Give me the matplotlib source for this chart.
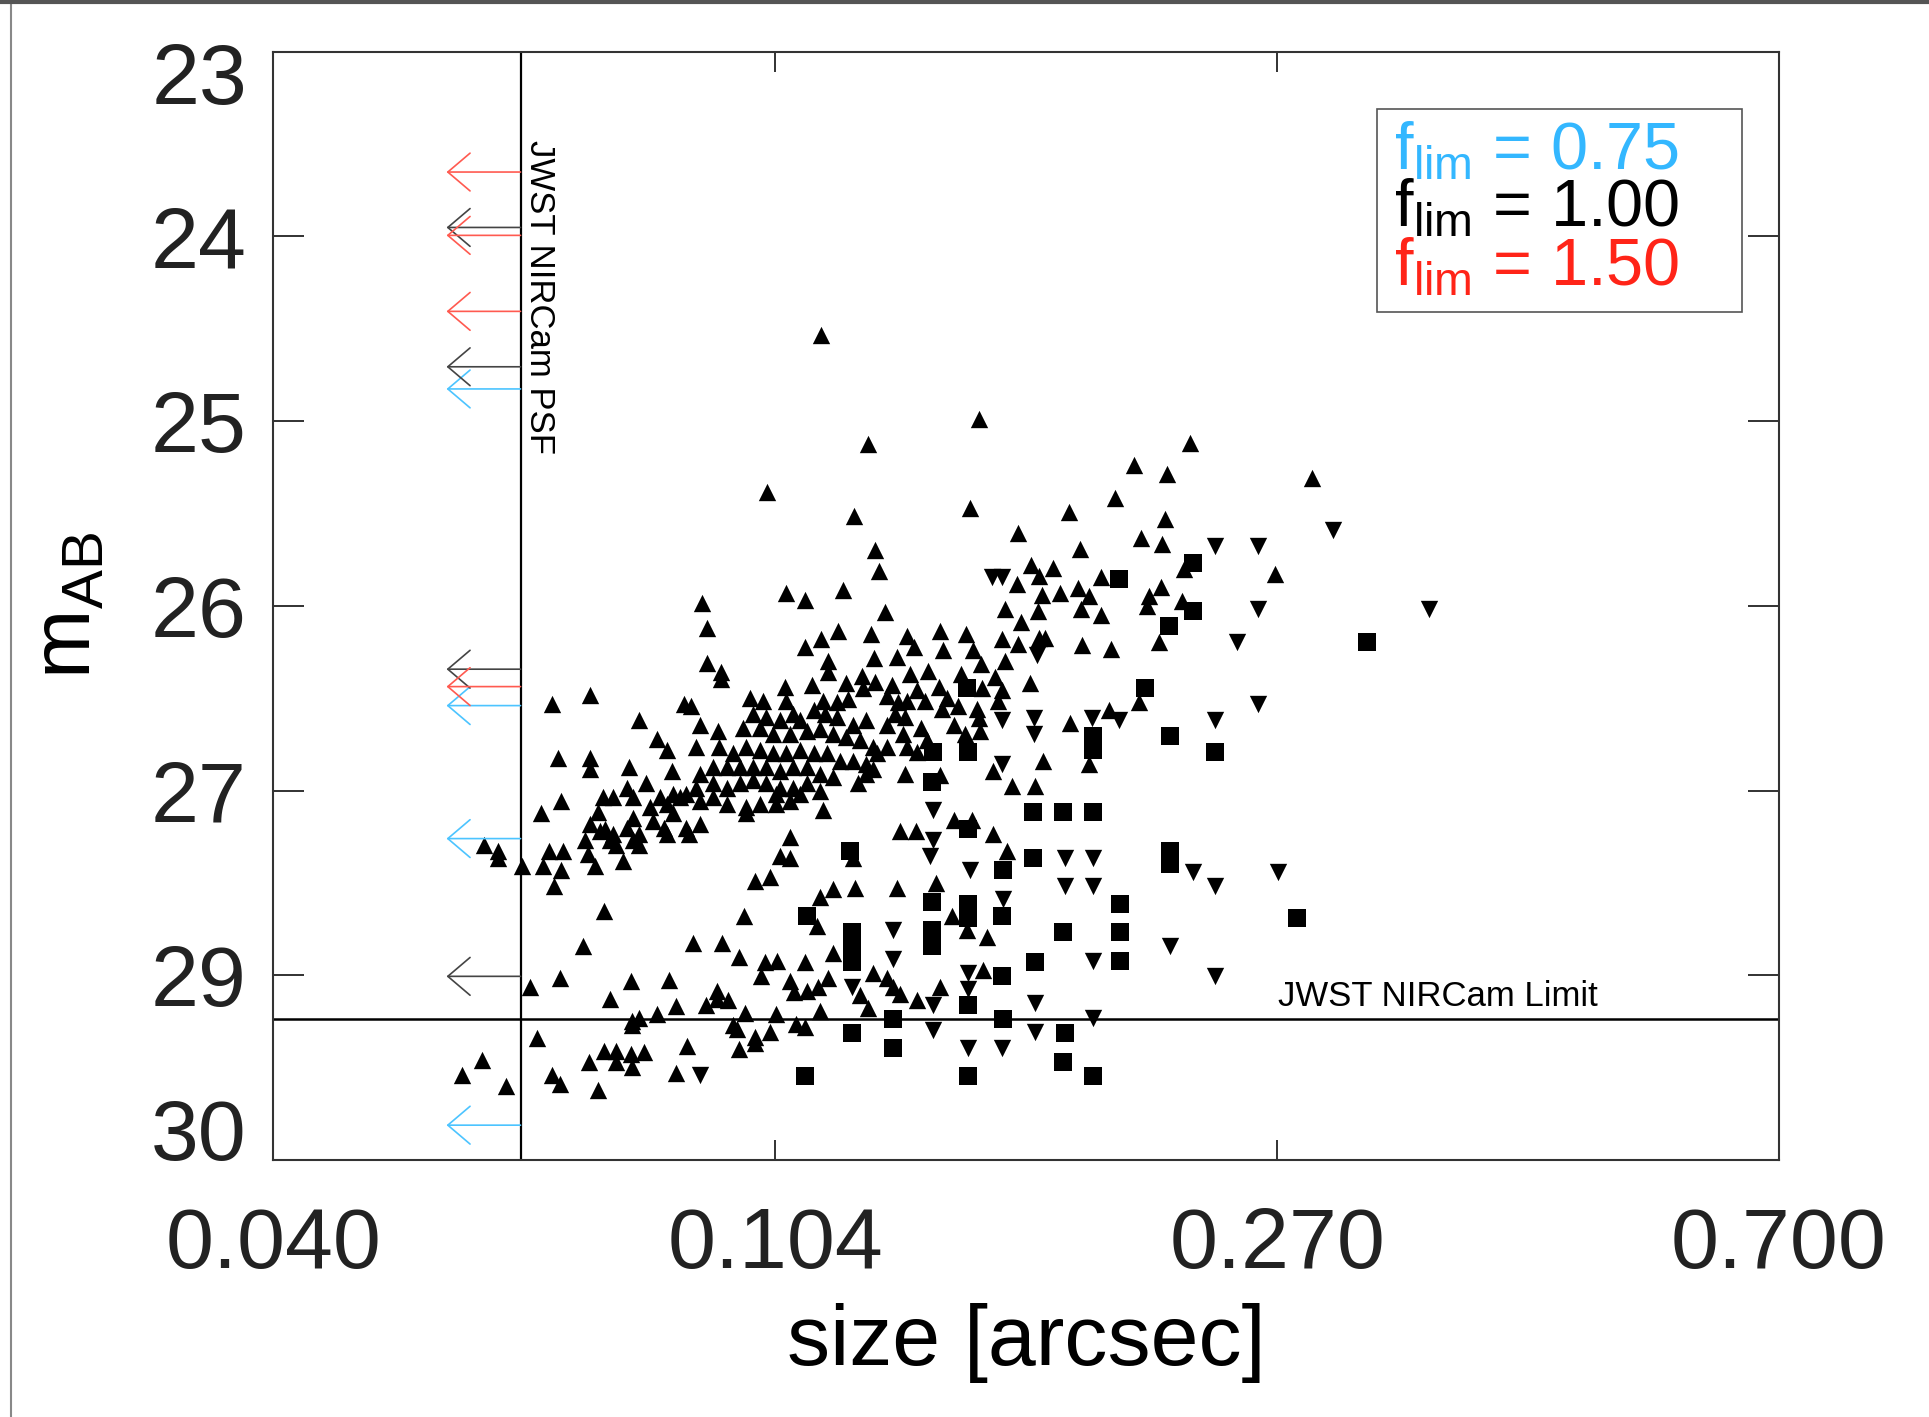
import numpy as np
import matplotlib
matplotlib.use('Agg')
import matplotlib.pyplot as plt
from matplotlib.patches import Rectangle
from matplotlib.lines import Line2D
from matplotlib.ticker import NullLocator
from matplotlib.transforms import ScaledTranslation

plt.rcParams['font.family'] = ['Liberation Sans', 'DejaVu Sans']
plt.rcParams['mathtext.fontset'] = 'custom'
plt.rcParams['mathtext.rm'] = 'Liberation Sans'
plt.rcParams['mathtext.it'] = 'Liberation Sans:italic'

# size [arcsec] and m_AB of the upward triangles
up_size = [
    0.1132, 0.1239, 0.1023, 0.1206, 0.1530, 0.2283, 0.2056, 0.2189, 0.2881, 0.1982,
    0.1505, 0.1817, 0.2179, 0.1648, 0.2080, 0.2165, 0.1853, 0.2686, 0.1688, 0.1761,
    0.1715, 0.1645, 0.1928, 0.2162, 0.2259, 0.1724, 0.1784, 0.1846, 0.1887, 0.2115,
    0.2106, 0.2252, 0.1608, 0.1710, 0.1856, 0.1928, 0.1656, 0.1421, 0.1492, 0.1335,
    0.1597, 0.1647, 0.1716, 0.1735, 0.1860, 0.1965, 0.2154, 0.1430, 0.1513, 0.1352,
    0.1535, 0.1608, 0.1479, 0.1576, 0.1685, 0.1389, 0.1343, 0.1417, 0.1597, 0.1586,
    0.1335, 0.1381, 0.1427, 0.1470, 0.1525, 0.1330, 0.1370, 0.1460, 0.1530, 0.1489,
    0.1330, 0.1361, 0.1421, 0.1571, 0.1629, 0.1702, 0.1727, 0.1818, 0.1960, 0.2072,
    0.1887, 0.1256, 0.1264, 0.0903, 0.1060, 0.1099, 0.1182, 0.1280, 0.0913, 0.1099,
    0.1134, 0.1171, 0.1246, 0.0913, 0.0937, 0.0937, 0.1149, 0.1149, 0.1254, 0.1308,
    0.1224, 0.1256, 0.1296, 0.1538, 0.1113, 0.1189, 0.1058, 0.1061, 0.0990, 0.1015,
    0.0874, 0.0885, 0.1137, 0.1167, 0.1193, 0.1227, 0.1284, 0.1312, 0.1359, 0.1439,
    0.1533, 0.1304, 0.1284, 0.1325, 0.1385, 0.1235, 0.1205, 0.1167, 0.1142, 0.1117,
    0.1089, 0.1074, 0.1048, 0.1021, 0.0996, 0.0977, 0.1009, 0.1034, 0.1068, 0.1103,
    0.1130, 0.1160, 0.1189, 0.1220, 0.1250, 0.1284, 0.1334, 0.0900, 0.0931, 0.0893,
    0.0934, 0.0959, 0.0983, 0.1009, 0.1034, 0.1061, 0.1089, 0.1117, 0.1146, 0.1175,
    0.1205, 0.1235, 0.1160, 0.1130, 0.1103, 0.1074, 0.1048, 0.1021, 0.0996, 0.0971,
    0.0947, 0.0923, 0.0900, 0.0923, 0.0947, 0.0971, 0.0996, 0.1021, 0.1048, 0.1074,
    0.1103, 0.0893, 0.0877, 0.0900, 0.0923, 0.0947, 0.0983, 0.1009, 0.1041, 0.1068,
    0.0983, 0.1041, 0.1089, 0.1130, 0.1235, 0.1260, 0.1216, 0.1250, 0.1137, 0.0802,
    0.0829, 0.0845, 0.0854, 0.0786, 0.0749, 0.0763, 0.0783, 0.0793, 0.0813, 0.0835,
    0.0855, 0.0819, 0.0845, 0.0866, 0.0744, 0.0763, 0.0783, 0.0793, 0.0802, 0.0824,
    0.0840, 0.0845, 0.0855, 0.0877, 0.0882, 0.0900, 0.0758, 0.0793, 0.0802, 0.0768,
    0.0777, 0.1068, 0.0679, 0.0731, 0.0687, 0.0731, 0.0731, 0.0691, 0.0665, 0.0597,
    0.0613, 0.0613, 0.0642, 0.0675, 0.0694, 0.0668, 0.0691, 0.0682, 0.0723, 0.0727,
    0.0737, 0.0742, 0.0731, 0.0752, 0.0573, 0.0595, 0.0623, 0.0750, 0.0979, 0.0720,
    0.0889, 0.0939, 0.0970, 0.1018, 0.1043, 0.0690, 0.0651, 0.0790, 0.0849, 0.1010,
    0.0759, 0.0860, 0.0830, 0.0791, 0.0802, 0.0791, 0.0929, 0.0911, 0.0930, 0.0950,
    0.0980, 0.1041, 0.0660, 0.0750, 0.0768, 0.0789, 0.0809, 0.0768, 0.0791, 0.0729,
    0.0878, 0.0965, 0.0959, 0.0999, 0.0999, 0.1029, 0.0970, 0.0679, 0.0690, 0.0860,
    0.0741, 0.1317, 0.1357, 0.1459, 0.1510, 0.1572, 0.1048, 0.1068, 0.1205, 0.0999,
    0.1028, 0.1130, 0.1160, 0.1208, 0.1308, 0.1410, 0.1125, 0.1099, 0.1160, 0.1068,
    0.1077, 0.1103, 0.1127, 0.1149, 0.1130, 0.1081, 0.1099, 0.1250, 0.1284, 0.1300,
    0.1317, 0.1220, 0.1239, 0.1359, 0.1420, 0.1453, 0.1494, 0.1553, 0.1543, 0.1612,
]
up_mag = [
    24.79, 25.48, 25.78, 25.93, 25.32, 25.47, 25.61, 25.67, 25.69, 25.82,
    25.88, 25.91, 25.95, 26.04, 26.07, 26.11, 26.14, 26.30, 26.24, 26.26,
    26.31, 26.36, 26.32, 26.38, 26.27, 26.43, 26.42, 26.39, 26.44, 26.44,
    26.50, 26.47, 26.52, 26.53, 26.52, 26.56, 26.60, 26.66, 26.68, 26.69,
    26.71, 26.74, 26.70, 26.70, 26.75, 26.77, 26.73, 26.78, 26.78, 26.76,
    26.87, 26.85, 26.93, 26.95, 26.99, 26.91, 26.93, 27.01, 27.03, 27.10,
    27.10, 27.10, 27.15, 27.13, 27.15, 27.20, 27.27, 27.25, 27.21, 27.31,
    27.56, 27.42, 27.57, 27.54, 27.64, 27.64, 27.48, 27.24, 27.16, 27.11,
    27.50, 26.15, 26.28, 26.48, 26.42, 26.46, 26.40, 26.54, 26.64, 26.76,
    26.71, 26.66, 26.68, 26.86, 26.92, 26.96, 26.85, 26.92, 26.83, 26.82,
    26.94, 26.98, 27.00, 27.02, 27.00, 26.99, 27.01, 27.10, 27.08, 27.10,
    27.12, 27.13, 27.10, 27.11, 27.09, 27.02, 27.07, 27.11, 27.03, 27.08,
    27.29, 27.18, 27.25, 27.31, 27.35, 27.22, 27.25, 27.20, 27.18, 27.16,
    27.22, 27.18, 27.22, 27.20, 27.18, 27.27, 27.27, 27.31, 27.31, 27.29,
    27.28, 27.31, 27.33, 27.35, 27.39, 27.39, 27.39, 27.25, 27.29, 27.39,
    27.39, 27.43, 27.39, 27.41, 27.43, 27.43, 27.41, 27.43, 27.43, 27.48,
    27.48, 27.50, 27.58, 27.56, 27.52, 27.52, 27.54, 27.52, 27.52, 27.52,
    27.52, 27.52, 27.56, 27.62, 27.65, 27.62, 27.60, 27.62, 27.65, 27.65,
    27.62, 27.65, 27.69, 27.73, 27.71, 27.75, 27.77, 27.75, 27.75, 27.73,
    27.81, 27.69, 27.69, 27.67, 27.56, 27.43, 27.62, 27.53, 27.79, 27.22,
    27.34, 27.41, 27.54, 27.52, 27.71, 27.71, 27.65, 27.71, 27.62, 27.71,
    27.69, 27.77, 27.75, 27.71, 27.92, 27.94, 27.90, 27.84, 27.94, 27.86,
    27.90, 27.94, 27.81, 27.90, 27.94, 27.88, 27.98, 27.98, 28.01, 28.01,
    28.11, 27.96, 27.12, 27.06, 27.46, 27.46, 27.53, 27.73, 27.81, 28.01,
    28.05, 28.09, 28.14, 28.05, 28.05, 28.14, 28.17, 28.27, 27.98, 28.07,
    28.14, 27.80, 27.88, 27.91, 29.46, 29.37, 29.53, 28.43, 28.46, 28.65,
    28.63, 28.63, 28.72, 28.75, 28.74, 28.85, 28.91, 28.87, 28.86, 28.84,
    28.98, 29.03, 29.08, 29.12, 29.10, 29.15, 28.93, 29.02, 28.98, 28.99,
    29.07, 29.08, 29.23, 29.31, 29.31, 29.33, 29.32, 29.38, 29.41, 29.38,
    29.28, 29.17, 29.15, 29.22, 29.26, 29.19, 29.30, 29.46, 29.52, 29.45,
    29.56, 27.92, 27.92, 27.85, 27.85, 27.94, 28.08, 28.09, 28.09, 28.24,
    28.21, 28.34, 28.29, 28.28, 28.28, 28.25, 28.52, 28.75, 28.69, 28.87,
    28.94, 28.93, 28.91, 28.85, 29.06, 29.14, 29.16, 28.82, 28.85, 28.91,
    28.95, 28.96, 29.04, 28.99, 28.91, 28.46, 28.55, 28.59, 28.80, 28.05,
]

# downward triangles
down_size = [
    0.2398, 0.2599, 0.3000, 0.2599, 0.3597, 0.2497, 0.2599, 0.2398, 0.1597, 0.1700,
    0.1700, 0.1897, 0.1996, 0.1597, 0.1567, 0.1597, 0.1707, 0.2297, 0.2398, 0.2700,
    0.2199, 0.2398, 0.1403, 0.1403, 0.1394, 0.1503, 0.1602, 0.1300, 0.1300, 0.1498,
    0.1498, 0.1403, 0.1403, 0.1702, 0.1702, 0.1901, 0.1901, 0.1801, 0.1901, 0.1801,
    0.1901, 0.1498, 0.1597, 0.1201, 0.0900,
]
down_mag = [
    26.12, 26.12, 26.02, 26.52, 26.52, 26.73, 27.12, 27.22, 27.22, 27.21,
    27.31, 27.21, 27.22, 26.32, 26.32, 27.50, 26.81, 28.18, 28.27, 28.18,
    28.65, 28.84, 27.79, 27.98, 28.08, 28.17, 28.35, 28.55, 28.73, 28.82,
    28.92, 29.02, 29.18, 29.01, 29.19, 28.74, 29.10, 28.09, 28.09, 28.27,
    28.27, 29.29, 29.29, 28.91, 29.46,
]

# squares
sq_size = [
    0.2297, 0.1996, 0.2297, 0.2196, 0.3198, 0.2099, 0.1899, 0.1899, 0.2199, 0.2398,
    0.1403, 0.1499, 0.1398, 0.1494, 0.2199, 0.2199, 0.1999, 0.1999, 0.1999, 0.2799,
    0.1696, 0.1795, 0.1901, 0.1696, 0.1498, 0.1602, 0.1597, 0.1795, 0.1702, 0.1597,
    0.1399, 0.1498, 0.1498, 0.1399, 0.1399, 0.1103, 0.1201, 0.1201, 0.1201, 0.1300,
    0.1498, 0.1602, 0.1201, 0.1300, 0.1801, 0.1795, 0.1099, 0.1498, 0.1901, 0.1197,
]
sq_mag = [
    26.23, 26.33, 26.53, 26.63, 26.73, 27.02, 27.32, 27.41, 27.32, 27.42,
    27.42, 27.42, 27.61, 27.02, 28.05, 28.13, 28.38, 28.56, 28.74, 28.47,
    27.80, 27.80, 27.80, 28.09, 27.91, 28.17, 28.46, 28.56, 28.75, 28.84,
    28.37, 28.38, 28.47, 28.55, 28.65, 28.46, 28.56, 28.66, 28.75, 29.11,
    29.02, 29.11, 29.20, 29.29, 29.20, 29.38, 29.47, 29.47, 29.47, 28.05,
]

# upper-limit arrows at the PSF size, one set per f_lim
arrow_mag_075 = [25.13, 27.13, 27.97, 29.78]
arrow_mag_100 = [24.11, 24.99, 26.90, 28.84]
arrow_mag_150 = [23.76, 24.16, 24.64, 27.01]
arrow_tip = 0.0556

psf_size = 0.064
limit_mag = 29.11

flim_labels = ['0.75', '1.00', '1.50']
flim_colors = ['#33B7FF', '#000000', '#FF2418']
arrow_colors = ['#4CC4FF', '#444444', '#FF5A50']

xticks = np.geomspace(0.04, 0.7, 4)
xtick_labels = ['0.040', '0.104', '0.270', '0.700']
yticks = np.linspace(23, 30, 7)
ytick_labels = ['23', '24', '25', '26', '27', '29', '30']

fig = plt.figure(figsize=(19.29, 14.17), dpi=100)
ax = fig.add_axes([0.14168, 0.18137, 0.78056, 0.78214])

ax.set_xscale('log')
ax.set_xlim(0.04, 0.7)
ax.set_ylim(30, 23)

ax.scatter(up_size, up_mag, marker='^', s=156, c='black', linewidths=0, zorder=3)
ax.scatter(down_size, down_mag, marker='v', s=156, c='black', linewidths=0, zorder=3)
ax.scatter(sq_size, sq_mag, marker='s', s=150, c='black', linewidths=0, zorder=3)

ax.axvline(psf_size, color='black', lw=1.6, zorder=2)
ax.axhline(limit_mag, color='black', lw=1.8, zorder=2)

for mags, col in zip([arrow_mag_075, arrow_mag_100, arrow_mag_150], arrow_colors):
    for m in mags:
        ax.annotate('', xy=(arrow_tip, m), xytext=(psf_size, m),
                    arrowprops=dict(arrowstyle='->,head_length=0.8,head_width=0.68',
                                    color=col, lw=1.2, mutation_scale=20,
                                    shrinkA=0, shrinkB=0))

ax.annotate('JWST NIRCam PSF', xy=(psf_size, 23.56), xytext=(1.5, 0),
            textcoords='offset points', rotation=270, ha='left', va='top',
            fontsize=25)
ax.text(0.270, 29.03, 'JWST NIRCam Limit', fontsize=25, ha='left', va='baseline')

# f_lim box
ax.add_patch(Rectangle((0.733, 0.7653), 0.2424, 0.1833, transform=ax.transAxes,
                       fill=False, ec='#555555', lw=1.2, zorder=4))
for lab, col, yy in zip(flim_labels, flim_colors, [0.894, 0.842, 0.789]):
    ax.text(0.744, yy, r'$\mathregular{f_{lim}}$ = ' + lab, transform=ax.transAxes,
            fontsize=48, color=col, ha='left', va='baseline', zorder=5)

ax.set_xticks(xticks)
ax.set_xticklabels(xtick_labels)
ax.xaxis.set_minor_locator(NullLocator())
ax.set_yticks(yticks)
ax.set_yticklabels(ytick_labels)
ax.yaxis.set_minor_locator(NullLocator())

ax.tick_params(direction='in', top=True, right=True, labelsize=62, colors='#222222')
ax.tick_params(axis='x', length=14.4, width=1.3, pad=33)
ax.tick_params(axis='y', length=22, width=1.3, pad=19)

# end labels sit inside the axis range, as in the original
ylabs = ax.get_yticklabels()
ylabs[0].set_verticalalignment('top')
ylabs[0].set_transform(ylabs[0].get_transform() +
                       ScaledTranslation(0, 0.1, fig.dpi_scale_trans))
ylabs[-1].set_verticalalignment('baseline')

for sp in ax.spines.values():
    sp.set_linewidth(1.5)
    sp.set_color('#333333')

ax.set_xlabel('size [arcsec]', fontsize=62)
ax.xaxis.set_label_coords(0.5, -0.129)
ax.set_ylabel(r'$\mathregular{m_{AB}}$', fontsize=60)
ax.yaxis.set_label_coords(-0.1096, 0.5)

# frame of the original screenshot
fig.add_artist(Line2D([0.0057, 0.0057], [0, 1], color='#888888', lw=1.5))
fig.add_artist(Line2D([0, 1], [0.9985, 0.9985], color='#555555', lw=3))

fig.savefig('out.png', dpi=100)
